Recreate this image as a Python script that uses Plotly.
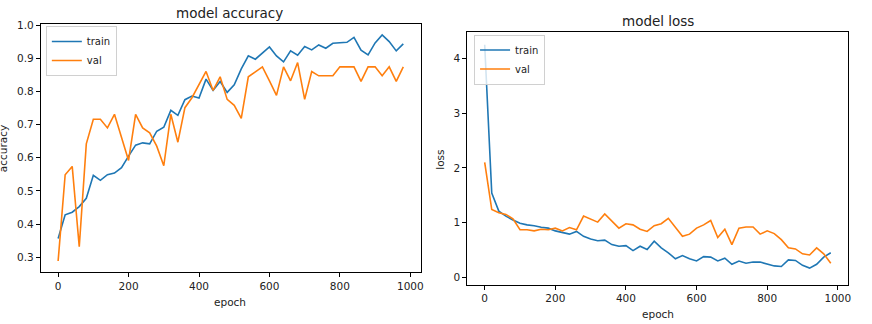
import plotly.graph_objects as go

epochs = list(range(0, 1000, 20))

acc_train = [0.357, 0.428, 0.436, 0.453, 0.478, 0.547, 0.532, 0.549, 0.554, 0.570,
             0.605, 0.638, 0.645, 0.642, 0.680, 0.692, 0.743, 0.728, 0.775, 0.786,
             0.780, 0.837, 0.803, 0.830, 0.797, 0.820, 0.868, 0.907, 0.897, 0.915,
             0.934, 0.907, 0.889, 0.922, 0.909, 0.935, 0.925, 0.940, 0.930, 0.945,
             0.946, 0.948, 0.963, 0.924, 0.910, 0.946, 0.970, 0.950, 0.922, 0.943]
acc_val = [0.289, 0.549, 0.574, 0.332, 0.642, 0.716, 0.716, 0.690, 0.731, 0.660,
           0.592, 0.731, 0.690, 0.675, 0.635, 0.576, 0.731, 0.647, 0.751, 0.781,
           0.822, 0.860, 0.803, 0.844, 0.776, 0.758, 0.719, 0.844, 0.859, 0.874,
           0.832, 0.788, 0.874, 0.832, 0.887, 0.776, 0.860, 0.847, 0.847, 0.847,
           0.874, 0.874, 0.874, 0.830, 0.874, 0.874, 0.847, 0.874, 0.830, 0.874]

loss_train = [4.25, 1.54, 1.21, 1.12, 1.05, 0.99, 0.96, 0.945, 0.915, 0.90,
              0.85, 0.82, 0.79, 0.84, 0.75, 0.70, 0.67, 0.68, 0.60, 0.57,
              0.58, 0.49, 0.57, 0.51, 0.66, 0.54, 0.45, 0.34, 0.40, 0.34,
              0.30, 0.38, 0.37, 0.30, 0.35, 0.24, 0.30, 0.26, 0.28, 0.28,
              0.25, 0.21, 0.20, 0.32, 0.31, 0.22, 0.17, 0.24, 0.37, 0.45]
loss_val = [2.10, 1.24, 1.18, 1.15, 1.07, 0.87, 0.87, 0.85, 0.88, 0.87,
            0.90, 0.85, 0.91, 0.87, 1.12, 1.07, 1.01, 1.16, 1.02, 0.90,
            0.98, 0.96, 0.88, 0.84, 0.945, 0.98, 1.08, 0.91, 0.75, 0.79,
            0.90, 0.96, 1.04, 0.73, 0.88, 0.60, 0.90, 0.92, 0.92, 0.79,
            0.85, 0.80, 0.69, 0.54, 0.52, 0.43, 0.41, 0.54, 0.43, 0.26]

x_ticks = [0, 200, 400, 600, 800, 1000]
acc_ticks = [0.3, 0.4, 0.5, 0.6, 0.7, 0.8, 0.9, 1.0]
loss_ticks = [0, 1, 2, 3, 4]

BLUE = "#1f77b4"
ORANGE = "#ff7f0e"
W, H = 872, 324
FONT = "DejaVu Sans"


def py(Y):
    """paper y fraction for a target pixel row (with small render-offset correction)"""
    return 1 - ((Y - 4) / 0.983) / H


def px(X):
    return X / W


fig = go.Figure()
fig.add_trace(go.Scatter(x=epochs, y=acc_train, mode="lines", name="train",
                         line=dict(color=BLUE, width=1.6), xaxis="x", yaxis="y", legend="legend"))
fig.add_trace(go.Scatter(x=epochs, y=acc_val, mode="lines", name="val",
                         line=dict(color=ORANGE, width=1.6), xaxis="x", yaxis="y", legend="legend"))
fig.add_trace(go.Scatter(x=epochs, y=loss_train, mode="lines", name="train",
                         line=dict(color=BLUE, width=1.6), xaxis="x2", yaxis="y2", legend="legend2"))
fig.add_trace(go.Scatter(x=epochs, y=loss_val, mode="lines", name="val",
                         line=dict(color=ORANGE, width=1.6), xaxis="x2", yaxis="y2", legend="legend2"))

axis_common = dict(showline=True, linecolor="black", linewidth=1, mirror=True,
                   ticks="outside", ticklen=4, tickcolor="black", showgrid=False,
                   zeroline=False, tickfont=dict(family=FONT, size=10.5, color="#222"))

legend_common = dict(xanchor="left", yanchor="top",
                     bgcolor="rgba(255,255,255,0.8)", bordercolor="#d0d0d0", borderwidth=1,
                     font=dict(family=FONT, size=10, color="#222"), itemwidth=30,
                     tracegroupgap=0)

fig.update_layout(
    width=W, height=H,
    margin=dict(l=0, r=0, t=0, b=0),
    paper_bgcolor="white", plot_bgcolor="white",
    font=dict(family=FONT, size=10, color="#222"),
    xaxis=dict(domain=[px(41), px(422)], range=[-49, 1029], tickvals=x_ticks,
               anchor="y", **axis_common),
    yaxis=dict(domain=[py(271), py(23)], range=[0.2546, 1.003], tickvals=acc_ticks,
               tickformat=".1f", anchor="x", **axis_common),
    xaxis2=dict(domain=[px(469), px(851)], range=[-49, 1029], tickvals=x_ticks,
                anchor="y2", **axis_common),
    yaxis2=dict(domain=[py(283.3), py(30.7)], range=[-0.134, 4.487], tickvals=loss_ticks,
                anchor="x2", **axis_common),
    legend=dict(x=px(46), y=py(25), **legend_common),
    legend2=dict(x=px(475.7), y=py(33.5), **legend_common),
    showlegend=True,
)

ann = [
    dict(text="model accuracy", x=230.7, y=12, size=13.5, angle=0),
    dict(text="model loss", x=660, y=20, size=13.5, angle=0),
    dict(text="epoch", x=230.7, y=301, size=10.5, angle=0),
    dict(text="epoch", x=660, y=313, size=10.5, angle=0),
    dict(text="accuracy", x=3, y=147, size=10.5, angle=-90),
    dict(text="loss", x=442, y=158, size=10.5, angle=-90),
]
for a in ann:
    fig.add_annotation(text=a["text"], x=px(a["x"]), y=py(a["y"]), xref="paper", yref="paper",
                       xanchor="center", yanchor="middle", showarrow=False,
                       textangle=a["angle"], font=dict(family=FONT, size=a["size"], color="#222"))

fig.write_html(
    "out.html",
    config={"displayModeBar": False},
    post_script="document.body.style.margin='0';document.body.style.padding='0';"
                "document.body.style.overflow='hidden';",
)
